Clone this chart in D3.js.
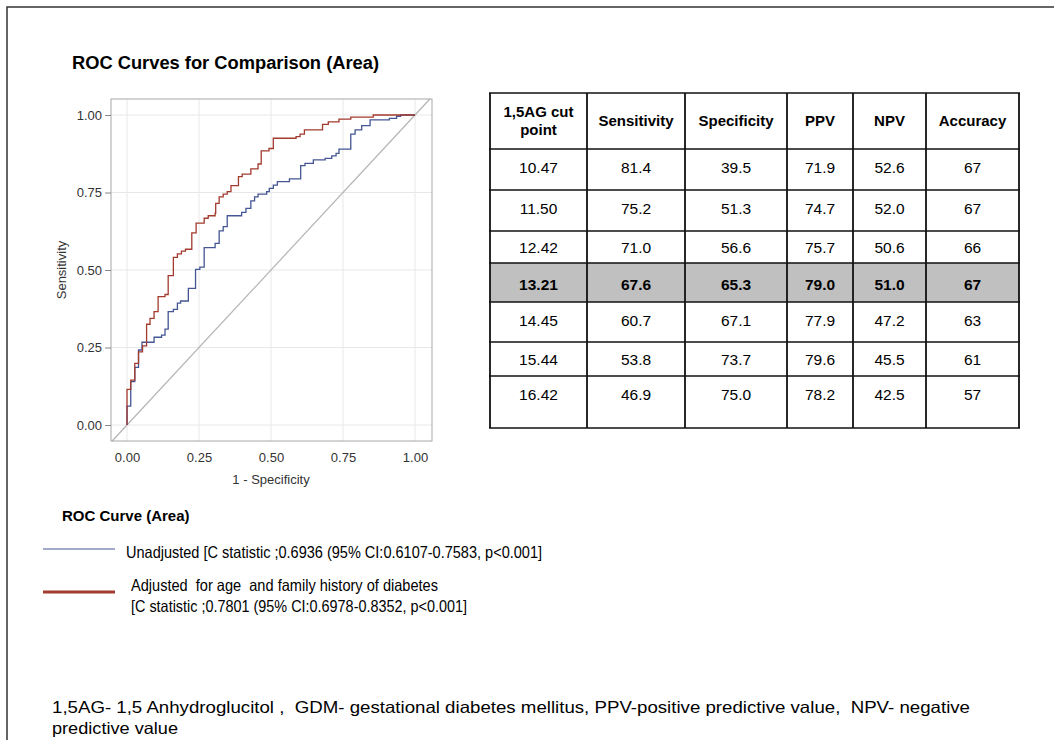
<!DOCTYPE html>
<html>
<head>
<meta charset="utf-8">
<script src="https://cdn.jsdelivr.net/npm/d3@7"></script>
<style>
  body { margin: 0; background: #fff; }
  svg { display: block; font-family: "Liberation Sans", Arial, sans-serif; }
  .narrow { font-family: "Liberation Sans Narrow", "Arial Narrow", "Liberation Sans", sans-serif; }
</style>
</head>
<body>
<svg id="chart" width="1054" height="740"></svg>
<script>
// ROC points: x of each vertical step and the sensitivity reached there
const unadjFpr = [0, 0, 0.013, 0.027, 0.040, 0.052, 0.094, 0.120, 0.132, 0.143, 0.161, 0.175, 0.186, 0.213,
  0.238, 0.253, 0.268, 0.306, 0.320, 0.334, 0.348, 0.398, 0.413, 0.430, 0.443, 0.455, 0.485, 0.494, 0.508,
  0.522, 0.564, 0.603, 0.618, 0.647, 0.688, 0.711, 0.726, 0.736, 0.777, 0.792, 0.815, 0.844, 0.911, 0.936, 0.950, 1];
const unadjTpr = [0, 0.061, 0.140, 0.186, 0.242, 0.267, 0.283, 0.290, 0.309, 0.366, 0.373, 0.393, 0.400, 0.441,
  0.502, 0.509, 0.572, 0.586, 0.626, 0.640, 0.675, 0.686, 0.699, 0.723, 0.736, 0.745, 0.753, 0.763, 0.774,
  0.785, 0.794, 0.837, 0.844, 0.855, 0.860, 0.868, 0.876, 0.890, 0.938, 0.952, 0.966, 0.984, 0.989, 0.996, 1, 1];

const adjFpr = [0, 0, 0.013, 0.027, 0.040, 0.054, 0.068, 0.080, 0.094, 0.108, 0.132, 0.143, 0.161, 0.175, 0.189,
  0.203, 0.225, 0.240, 0.268, 0.282, 0.306, 0.308, 0.320, 0.334, 0.348, 0.361, 0.387, 0.400, 0.430, 0.455,
  0.466, 0.493, 0.508, 0.587, 0.601, 0.616, 0.679, 0.699, 0.736, 0.777, 0.855, 1];
const adjTpr = [0, 0.115, 0.145, 0.199, 0.236, 0.255, 0.325, 0.344, 0.366, 0.414, 0.421, 0.482, 0.541, 0.552, 0.561,
  0.567, 0.620, 0.651, 0.667, 0.675, 0.683, 0.715, 0.736, 0.745, 0.753, 0.772, 0.801, 0.809, 0.826, 0.842,
  0.884, 0.892, 0.925, 0.930, 0.938, 0.952, 0.970, 0.978, 0.987, 0.993, 1, 1];

const axisTicks = [0, 0.25, 0.5, 0.75, 1];

const tableHeader = ['1,5AG cut\npoint', 'Sensitivity', 'Specificity', 'PPV', 'NPV', 'Accuracy'];
const cutPoints   = ['10.47', '11.50', '12.42', '13.21', '14.45', '15.44', '16.42'];
const sensitivity = ['81.4', '75.2', '71.0', '67.6', '60.7', '53.8', '46.9'];
const specificity = ['39.5', '51.3', '56.6', '65.3', '67.1', '73.7', '75.0'];
const ppv         = ['71.9', '74.7', '75.7', '79.0', '77.9', '79.6', '78.2'];
const npv         = ['52.6', '52.0', '50.6', '51.0', '47.2', '45.5', '42.5'];
const accuracy    = ['67', '67', '66', '67', '63', '61', '57'];
const highlightRow = 3;

const BLUE = '#445694', RED = '#a23a2e';

const svg = d3.select('#chart');
svg.append('rect').attr('width', 1054).attr('height', 740).attr('fill', '#fff');

// page border (only top and left visible in the crop)
svg.append('path').attr('d', 'M7,740V7H1054')
  .attr('fill', 'none').attr('stroke', '#333').attr('stroke-width', 1.5);

svg.append('text').attr('x', 72).attr('y', 69)
  .attr('font-size', 18).attr('font-weight', 'bold')
  .attr('textLength', 307).attr('lengthAdjust', 'spacingAndGlyphs')
  .text('ROC Curves for Comparison (Area)');

// ── ROC plot ──
const FRAME = { l: 111, t: 99, r: 432, b: 441 };
const x = d3.scaleLinear().domain([0, 1]).range([127, 415]);
const y = d3.scaleLinear().domain([0, 1]).range([425, 115]);

const plot = svg.append('g');
svg.append('defs').append('clipPath').attr('id', 'frame-clip')
  .append('rect').attr('x', FRAME.l).attr('y', FRAME.t)
  .attr('width', FRAME.r - FRAME.l).attr('height', FRAME.b - FRAME.t);

plot.selectAll('.gx').data(axisTicks).join('line')
  .attr('x1', d => x(d)).attr('x2', d => x(d)).attr('y1', FRAME.t).attr('y2', FRAME.b)
  .attr('stroke', '#e8e8e8');
plot.selectAll('.gy').data(axisTicks).join('line')
  .attr('y1', d => y(d)).attr('y2', d => y(d)).attr('x1', FRAME.l).attr('x2', FRAME.r)
  .attr('stroke', '#e8e8e8');

// chance diagonal, across the whole frame
const d0 = Math.max(x.invert(FRAME.l), y.invert(FRAME.b));
const d1 = Math.min(x.invert(FRAME.r), y.invert(FRAME.t));
plot.append('line')
  .attr('x1', x(d0)).attr('y1', y(d0)).attr('x2', x(d1)).attr('y2', y(d1))
  .attr('stroke', '#b4b4b4').attr('stroke-width', 1.2);

const step = d3.line().x(d => x(d[0])).y(d => y(d[1])).curve(d3.curveStepAfter);
const curves = [
  { fpr: unadjFpr, tpr: unadjTpr, color: BLUE },
  { fpr: adjFpr,   tpr: adjTpr,   color: RED  },
];
curves.forEach(c => {
  plot.append('path')
    .datum(c.fpr.map((f, i) => [f, c.tpr[i]]))
    .attr('clip-path', 'url(#frame-clip)')
    .attr('fill', 'none').attr('stroke', c.color).attr('stroke-width', 1.3)
    .attr('d', step);
});

plot.append('rect').attr('x', FRAME.l).attr('y', FRAME.t)
  .attr('width', FRAME.r - FRAME.l).attr('height', FRAME.b - FRAME.t)
  .attr('fill', 'none').attr('stroke', '#a8a8a8');

const fmt = d3.format('.2f');
const yAxis = plot.append('g').attr('class', 'narrow').attr('transform', `translate(${FRAME.l},0)`)
  .call(d3.axisLeft(y).tickValues(axisTicks).tickFormat(fmt).tickSize(6).tickPadding(3));
const xAxis = plot.append('g').attr('class', 'narrow').attr('transform', `translate(0,${FRAME.b})`)
  .call(d3.axisBottom(x).tickValues(axisTicks).tickFormat(fmt).tickSize(0).tickPadding(12));
[yAxis, xAxis].forEach(a => {
  a.select('.domain').remove();
  a.selectAll('text').attr('font-size', 13).attr('fill', '#333').attr('font-family', null);
  a.selectAll('line').attr('stroke', '#888');
});

plot.append('text').attr('class', 'narrow')
  .attr('transform', 'translate(66,270) rotate(-90)').attr('text-anchor', 'middle')
  .attr('font-size', 13).attr('fill', '#333').text('Sensitivity');
plot.append('text').attr('class', 'narrow')
  .attr('x', 271).attr('y', 484).attr('text-anchor', 'middle')
  .attr('font-size', 13).attr('fill', '#333').text('1 - Specificity');

// ── Table ──
const colEdges = [490, 587, 685, 787, 853, 926, 1019];
const rowEdges = [93, 149, 190, 231, 263, 302, 342, 376, 428];
const columns = [cutPoints, sensitivity, specificity, ppv, npv, accuracy];
const tbl = svg.append('g');

tbl.append('rect')
  .attr('x', colEdges[0]).attr('y', rowEdges[highlightRow + 1])
  .attr('width', colEdges[6] - colEdges[0])
  .attr('height', rowEdges[highlightRow + 2] - rowEdges[highlightRow + 1])
  .attr('fill', '#c0c0c0');

const colMid = i => (colEdges[i] + colEdges[i + 1]) / 2;

tableHeader.forEach((h, i) => {
  const lines = h.split('\n');
  const t = tbl.append('text').attr('text-anchor', 'middle')
    .attr('font-size', 15).attr('font-weight', 'bold');
  lines.forEach((ln, k) => {
    t.append('tspan').attr('x', colMid(i))
      .attr('y', (rowEdges[0] + rowEdges[1]) / 2 + 5 + (k - (lines.length - 1) / 2) * 18)
      .text(ln);
  });
});

columns.forEach((col, i) => {
  col.forEach((v, r) => {
    const top = rowEdges[r + 1], bot = rowEdges[r + 2];
    const cy = r === highlightRow ? (top + bot) / 2 + 2 : Math.min((top + bot) / 2, top + 18);
    tbl.append('text').attr('x', colMid(i)).attr('y', cy + 5.5)
      .attr('text-anchor', 'middle').attr('font-size', 15.5)
      .attr('font-weight', r === highlightRow ? 'bold' : null)
      .text(v);
  });
});

tbl.selectAll('.hl').data(rowEdges).join('line')
  .attr('x1', colEdges[0] - 1).attr('x2', colEdges[6] + 1)
  .attr('y1', d => d).attr('y2', d => d)
  .attr('stroke', '#111').attr('stroke-width', 1.6);
tbl.selectAll('.vl').data(colEdges).join('line')
  .attr('x1', d => d).attr('x2', d => d)
  .attr('y1', rowEdges[0]).attr('y2', rowEdges[rowEdges.length - 1])
  .attr('stroke', '#111').attr('stroke-width', 1.8);

// ── Legend ──
const legend = svg.append('g');
legend.append('text').attr('x', 62).attr('y', 521)
  .attr('font-size', 15).attr('font-weight', 'bold').text('ROC Curve (Area)');

legend.append('line').attr('x1', 43).attr('x2', 115).attr('y1', 549).attr('y2', 549)
  .attr('stroke', BLUE).attr('stroke-width', 1.2);
legend.append('line').attr('x1', 43).attr('x2', 115).attr('y1', 592).attr('y2', 592)
  .attr('stroke', RED).attr('stroke-width', 3);

const legendText = [
  { x: 126, y: 558, w: 416, s: 'Unadjusted [C statistic ;0.6936 (95% CI:0.6107-0.7583, p<0.001]' },
  { x: 131, y: 591, w: 307, s: 'Adjusted  for age  and family history of diabetes' },
  { x: 131, y: 612, w: 336, s: '[C statistic ;0.7801 (95% CI:0.6978-0.8352, p<0.001]' },
];
legend.selectAll('.lt').data(legendText).join('text')
  .attr('x', d => d.x).attr('y', d => d.y).attr('font-size', 16.5)
  .attr('textLength', d => d.w).attr('lengthAdjust', 'spacingAndGlyphs')
  .style('white-space', 'pre').text(d => d.s);

// ── Footnote ──
const notes = [
  { y: 713, w: 918, s: '1,5AG- 1,5 Anhydroglucitol ,  GDM- gestational diabetes mellitus, PPV-positive predictive value,  NPV- negative' },
  { y: 734, w: 126, s: 'predictive value' },
];
notes.forEach(n => {
  svg.append('text').attr('x', 52).attr('y', n.y).attr('font-size', 16.5)
    .attr('textLength', n.w).attr('lengthAdjust', 'spacingAndGlyphs')
    .style('white-space', 'pre').text(n.s);
});
</script>
</body>
</html>
